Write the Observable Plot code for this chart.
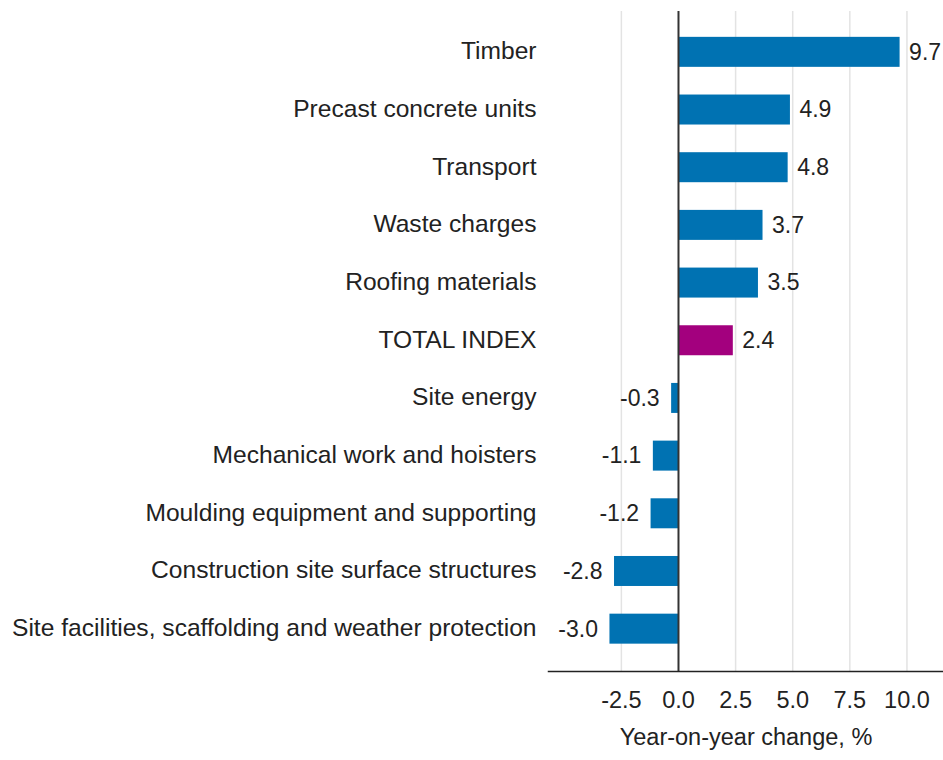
<!DOCTYPE html>
<html>
<head>
<meta charset="utf-8">
<script src="https://cdn.jsdelivr.net/npm/d3@7"></script>
<script src="https://cdn.jsdelivr.net/npm/@observablehq/plot@0.6"></script>
<style>
  html, body { margin: 0; padding: 0; background: #fff; }
</style>
</head>
<body>
<div id="chart"></div>
<script>
const categories = [
  "Timber",
  "Precast concrete units",
  "Transport",
  "Waste charges",
  "Roofing materials",
  "TOTAL INDEX",
  "Site energy",
  "Mechanical work and hoisters",
  "Moulding equipment and supporting",
  "Construction site surface structures",
  "Site facilities, scaffolding and weather protection"
];
const values = [9.7, 4.9, 4.8, 3.7, 3.5, 2.4, -0.3, -1.1, -1.2, -2.8, -3.0];
const xTicks = [-2.5, 0, 2.5, 5, 7.5, 10];
const gridTicks = [-2.5, 2.5, 5, 7.5, 10];
const totalLabel = "TOTAL INDEX";
const axisTitle = "Year-on-year change, %";

const data = categories.map((name, i) => ({name, value: values[i]}));
const FS = 23;
const FSY = 24.6;

const chart = Plot.plot({
  width: 943,
  height: 760,
  marginTop: 11,
  marginBottom: 89,
  marginLeft: 548,
  marginRight: 0,
  style: {fontFamily: "Liberation Sans, Arial, sans-serif", fontSize: FS + "px", color: "#222", background: "#fff"},
  x: {domain: [-5.69, 11.6], label: null},
  y: {domain: categories, label: null, paddingInner: 0.48, paddingOuter: 0.24, insetTop: 12, insetBottom: 13.5, round: false},
  marks: [
    Plot.ruleX(gridTicks, {stroke: "#e3e3e3", strokeWidth: 1.5}),
    Plot.barX(data, {
      x1: 0, x2: "value", y: "name",
      fill: d => d.name === totalLabel ? "#a3007e" : "#0072b2"
    }),
    Plot.ruleX([0], {stroke: "#333", strokeWidth: 2}),
    Plot.frame({anchor: "bottom", stroke: "#222", strokeWidth: 1.5}),
    Plot.text(data.filter(d => d.value >= 0), {
      x: "value", y: "name",
      text: d => d.value.toFixed(1),
      textAnchor: "start", dx: 9, fontSize: FS, fill: "#222"
    }),
    Plot.text(data.filter(d => d.value < 0), {
      x: "value", y: "name",
      text: d => d.value.toFixed(1),
      textAnchor: "end", dx: -12, fontSize: FS, fill: "#222"
    }),
    Plot.axisY({tickSize: 0, tickPadding: 12, fontSize: FSY, dy: -1}),
    Plot.axisX(xTicks, {tickSize: 0, tickPadding: 20, tickFormat: d => d.toFixed(1), fontSize: 23.5}),
    Plot.text([axisTitle], {frameAnchor: "bottom", dy: 73, fontSize: 23.5, fill: "#222"})
  ]
});
document.getElementById("chart").appendChild(chart);
</script>
</body>
</html>
